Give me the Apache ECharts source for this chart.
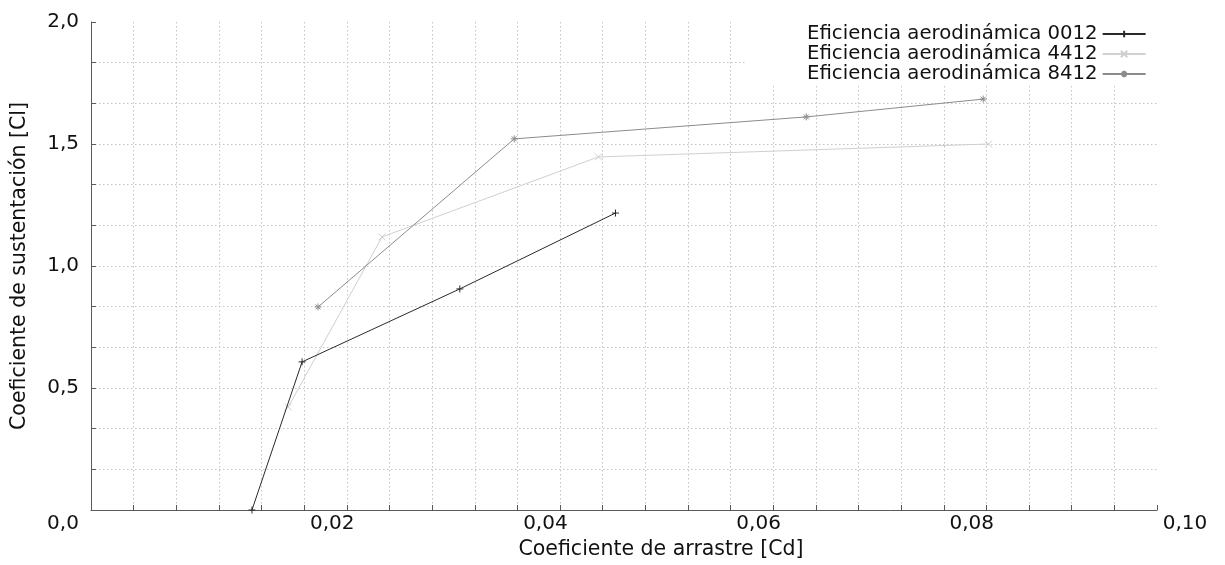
<!DOCTYPE html>
<html>
<head>
<meta charset="utf-8">
<script src="https://cdn.jsdelivr.net/npm/echarts@6/dist/echarts.min.js"></script>
<style>
html,body{margin:0;padding:0;background:#fff;}
#chart{width:1225px;height:565px;}
</style>
</head>
<body>
<div id="chart"></div>
<script>
// Data
const seriesNames = ['Eficiencia aerodinámica 0012', 'Eficiencia aerodinámica 4412', 'Eficiencia aerodinámica 8412'];
const cd0012 = [0.0151, 0.0198, 0.0346, 0.0492];
const cl0012 = [0.000, 0.607, 0.906, 1.217];
const cd4412 = [0.0185, 0.0273, 0.0476, 0.0842];
const cl4412 = [0.422, 1.119, 1.447, 1.500];
const cd8412 = [0.0213, 0.0397, 0.0671, 0.0837];
const cl8412 = [0.832, 1.521, 1.611, 1.684];
const xTitle = 'Coeficiente de arrastre [Cd]';
const yTitle = 'Coeficiente de sustentación [Cl]';

const FONT = 'DejaVu Sans';
const TXT = '#111111';
const AX = '#5a5a5a';
const GRIDC = '#c4c4c4';
const LABEL_SIZE = 20;
const LEGEND_SIZE = 19.7;
const TITLE_SIZE = 20.5;

const symPlus = 'path://M0,5L10,5M5,0L5,10';
const symCross = 'path://M0,0L10,10M10,0L0,10';
const symStar = 'path://M0,5L10,5M5,0L5,10M1.5,1.5L8.5,8.5M8.5,1.5L1.5,8.5';

function pairs(xs, ys) { return xs.map((x, i) => [x, ys[i]]); }

function mkSeries(name, data, color, sym, z) {
  return {
    name: name,
    type: 'line',
    data: data,
    z: z,
    symbol: sym,
    symbolSize: 7,
    showSymbol: true,
    color: color,
    lineStyle: { color: color, width: 1 },
    itemStyle: { color: 'rgba(0,0,0,0)', borderColor: color, borderWidth: 1 },
    emphasis: { disabled: true },
    animation: false
  };
}

const chart = echarts.init(document.getElementById('chart'), null, { renderer: 'canvas' });
chart.setOption({
  backgroundColor: '#ffffff',
  animation: false,
  grid: { left: 91, right: 68, top: 22, bottom: 55, containLabel: false },
  legend: {
    data: seriesNames,
    orient: 'vertical',
    left: 745,
    top: 0,
    padding: [24, 11, 0, 62],
    align: 'right',
    itemWidth: 43,
    itemHeight: 8,
    itemGap: 0,
    backgroundColor: '#ffffff',
    textStyle: { fontFamily: FONT, fontSize: LEGEND_SIZE, color: TXT, lineHeight: 20 },
    z: 10
  },
  xAxis: {
    type: 'value',
    min: 0, max: 0.1, interval: 0.02,
    name: xTitle,
    nameLocation: 'middle',
    nameGap: 22,
    nameTextStyle: { fontFamily: FONT, fontSize: TITLE_SIZE, color: TXT, padding: [0, 0, 0, 74] },
    axisLine: { show: true, onZero: false, lineStyle: { color: AX, width: 1 } },
    axisTick: { show: true, inside: true, length: 5, lineStyle: { color: AX } },
    minorTick: { show: true, splitNumber: 5, length: 5, lineStyle: { color: AX } },
    splitLine: { show: true, showMaxLine: false, lineStyle: { color: GRIDC, type: [1.5, 2.5], width: 1 } },
    minorSplitLine: { show: true, lineStyle: { color: GRIDC, type: [1.5, 2.5], width: 1 } },
    axisLabel: {
      margin: 4,
      fontFamily: FONT, fontSize: LABEL_SIZE, color: TXT,
      formatter: function (v) {
        if (v === 0) return '{l|0,0}';
        return '{r|' + v.toFixed(2).replace('.', ',') + '}';
      },
      rich: {
        l: { fontFamily: FONT, fontSize: LABEL_SIZE, color: TXT, padding: [0, 56, 0, 0] },
        r: { fontFamily: FONT, fontSize: LABEL_SIZE, color: TXT, padding: [0, 0, 0, 56] }
      }
    }
  },
  yAxis: {
    type: 'value',
    min: 0, max: 2, interval: 0.5,
    name: yTitle,
    nameLocation: 'middle',
    nameGap: 61,
    nameTextStyle: { fontFamily: FONT, fontSize: TITLE_SIZE, color: TXT },
    axisLine: { show: true, onZero: false, lineStyle: { color: AX, width: 1 } },
    axisTick: { show: true, inside: true, length: 5, lineStyle: { color: AX } },
    minorTick: { show: true, splitNumber: 3, length: 5, lineStyle: { color: AX } },
    splitLine: { show: true, showMaxLine: false, lineStyle: { color: GRIDC, type: [1.5, 2.5], width: 1 } },
    minorSplitLine: { show: true, lineStyle: { color: GRIDC, type: [1.5, 2.5], width: 1 } },
    axisLabel: {
      margin: 12,
      showMinLabel: false,
      fontFamily: FONT, fontSize: LABEL_SIZE, color: TXT,
      formatter: function (v) { return v.toFixed(1).replace('.', ','); }
    }
  },
  series: [
    mkSeries(seriesNames[0], pairs(cd0012, cl0012), '#2a2a2a', symPlus, 4),
    mkSeries(seriesNames[1], pairs(cd4412, cl4412), '#d0d0d0', symCross, 2),
    mkSeries(seriesNames[2], pairs(cd8412, cl8412), '#8c8c8c', symStar, 3)
  ]
});
</script>
</body>
</html>
